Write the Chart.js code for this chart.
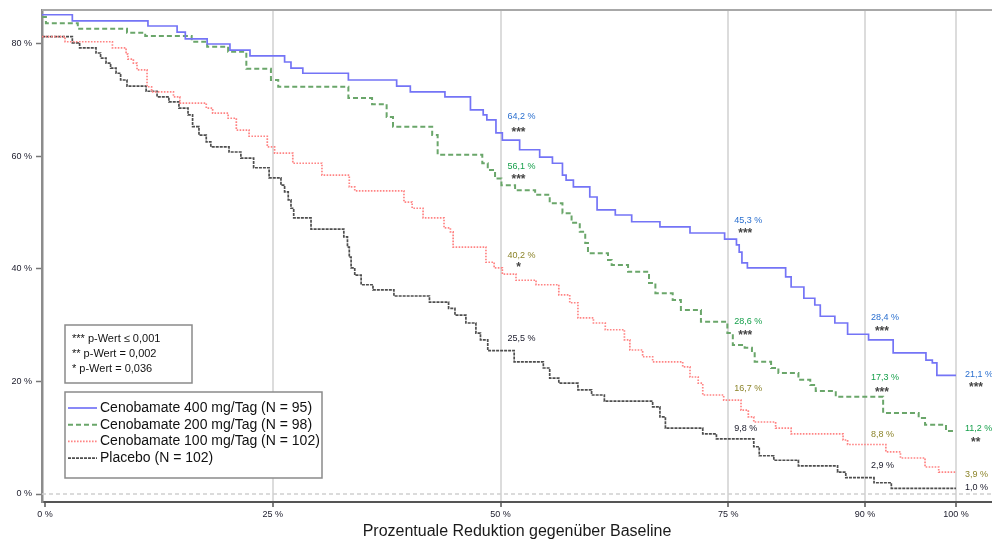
<!DOCTYPE html>
<html><head><meta charset="utf-8">
<script src="https://cdn.jsdelivr.net/npm/chart.js@4.4.1/dist/chart.umd.min.js"></script>
<style>html,body{margin:0;padding:0;background:#fff;}</style>
</head><body>
<canvas id="c" width="992" height="545"></canvas>
<script>
// ---------- DATA ----------
const xTicks = [0, 25, 50, 75, 90, 100];
const yTicks = [0, 20, 40, 60, 80];
const seriesLabels = ['Cenobamate 400 mg/Tag (N = 95)', 'Cenobamate 200 mg/Tag (N = 98)', 'Cenobamate 100 mg/Tag (N = 102)', 'Placebo (N = 102)'];
const xTitle = 'Prozentuale Reduktion gegenüber Baseline';
const pText = ['*** p-Wert \u2264 0,001', '** p-Wert = 0,002', '* p-Wert = 0,036'];

// step points: x = reduction (%) where the curve drops, y = responder rate (%) after the drop
const x400 = [-0.33, 3.0, 11.3, 14.5, 15.4, 17.8, 20.3, 22.5, 26.3, 27.0, 28.3, 33.3, 38.6, 40.1, 43.9, 46.7, 48.1, 48.5, 49.5, 50.2, 52.1, 54.3, 55.7, 56.8, 57.2, 58.0, 59.8, 60.6, 62.6, 64.4, 67.5, 70.8, 74.6, 75.9, 76.2, 76.5, 77.1, 81.3, 81.9, 83.3, 84.5, 85.1, 86.7, 88.1, 90.4, 93.1, 96.7, 97.4, 97.9, 100];
const y400 = [85.2, 84.1, 83.2, 82.1, 80.9, 80.0, 78.9, 77.9, 76.8, 75.7, 74.8, 73.6, 72.5, 71.5, 70.6, 68.3, 67.4, 66.5, 64.2, 62.9, 61.2, 59.9, 58.8, 56.7, 55.8, 54.6, 52.8, 50.5, 49.6, 48.4, 47.5, 46.4, 45.3, 44.3, 43.0, 41.1, 40.2, 38.6, 36.8, 34.8, 33.6, 31.6, 30.4, 28.4, 27.4, 25.1, 23.8, 23.3, 21.1, 21.1];

const x200 = [-0.33, 0.1, 3.6, 9.0, 11.0, 16.1, 17.8, 20.1, 22.1, 24.8, 25.6, 33.3, 35.9, 37.5, 38.2, 42.5, 43.1, 48.0, 48.6, 49.4, 50.1, 51.6, 53.8, 55.4, 56.8, 57.8, 58.7, 59.3, 59.6, 61.8, 62.2, 64.0, 66.3, 67.0, 68.9, 69.8, 72.0, 74.9, 75.5, 76.8, 77.6, 77.9, 79.7, 80.5, 82.7, 84.0, 84.6, 86.8, 92.0, 95.9, 96.6, 98.9, 100];
const y200 = [84.8, 83.7, 82.7, 82.0, 81.4, 80.4, 79.5, 78.6, 75.6, 73.6, 72.4, 70.4, 69.3, 67.0, 65.3, 63.8, 60.3, 58.8, 57.6, 56.1, 54.9, 54.0, 53.2, 51.7, 49.9, 48.2, 46.6, 44.6, 42.8, 41.6, 40.7, 39.5, 37.5, 35.7, 34.5, 32.7, 30.6, 28.6, 26.5, 26.0, 25.2, 23.5, 22.4, 21.5, 20.3, 19.4, 18.3, 17.3, 14.4, 13.5, 12.3, 11.2, 11.2];

const x100 = [-0.33, 2.2, 7.4, 8.9, 9.1, 9.7, 10.1, 11.2, 11.7, 14.1, 14.8, 17.7, 18.4, 20.1, 21.0, 22.4, 24.4, 25.2, 27.2, 30.4, 33.4, 34.0, 39.4, 40.3, 41.5, 43.8, 44.5, 44.8, 48.4, 49.3, 50.2, 51.7, 53.9, 56.4, 57.6, 58.5, 60.2, 61.5, 63.6, 64.2, 65.6, 66.7, 70.0, 70.8, 71.7, 72.2, 74.5, 76.4, 77.2, 77.8, 80.2, 81.9, 87.6, 88.1, 92.3, 93.9, 96.6, 98.1, 100];
const y100 = [81.3, 80.4, 79.3, 78.2, 77.3, 76.6, 75.4, 72.4, 71.5, 70.6, 69.5, 68.6, 67.7, 66.8, 64.7, 63.6, 61.7, 60.6, 58.8, 56.7, 54.6, 53.9, 51.9, 50.8, 49.1, 47.3, 46.6, 43.9, 41.2, 40.2, 39.1, 38.0, 37.2, 35.4, 34.0, 31.3, 30.4, 29.2, 27.4, 25.6, 24.4, 23.5, 22.6, 20.8, 19.7, 17.6, 16.7, 14.9, 13.7, 12.8, 11.7, 10.7, 9.6, 8.8, 7.5, 6.4, 4.8, 3.9, 3.9];

const xPl = [-0.33, 3.0, 3.8, 5.6, 6.1, 6.7, 7.2, 7.8, 8.3, 9.0, 11.1, 12.3, 13.6, 14.7, 15.7, 16.2, 16.9, 17.7, 18.2, 20.2, 21.5, 22.9, 24.6, 25.9, 26.3, 26.7, 27.0, 27.3, 29.2, 32.8, 33.2, 33.4, 33.6, 34.0, 34.7, 36.0, 38.3, 42.2, 44.3, 45.0, 46.2, 47.3, 47.8, 48.6, 51.5, 54.7, 55.4, 56.4, 58.5, 60.0, 61.4, 66.7, 67.5, 68.1, 72.2, 73.7, 77.8, 78.4, 80.0, 82.7, 87.0, 87.9, 91.0, 92.9, 100];
const yPl = [81.3, 80.2, 79.3, 78.4, 77.5, 76.6, 75.7, 74.8, 73.6, 72.5, 71.6, 70.6, 69.7, 68.6, 67.4, 65.3, 63.8, 62.6, 61.7, 60.8, 59.7, 58.0, 56.2, 54.9, 53.7, 52.3, 50.8, 49.1, 47.1, 45.7, 43.9, 42.1, 40.2, 38.9, 37.2, 36.3, 35.2, 34.1, 33.0, 31.8, 30.4, 28.6, 27.4, 25.5, 23.5, 22.4, 20.6, 19.7, 18.5, 17.6, 16.5, 15.5, 13.7, 11.7, 10.7, 9.8, 8.4, 6.8, 6.0, 5.0, 3.9, 2.9, 2.0, 1.0, 1.0];

// annotated responder rates at the checkpoints
const checkpoints = [50, 75, 90, 100];
const vals400 = [64.2, 45.3, 28.4, 21.1];
const vals200 = [56.1, 28.6, 17.3, 11.2];
const vals100 = [40.2, 16.7, 8.8, 3.9];
const valsPl = [25.5, 9.8, 2.9, 1.0];
const stars400 = ['***', '***', '***', '***'];
const stars200 = ['***', '***', '***', '**'];
const stars100 = ['*', '', '', ''];
const starsPl = ['', '', '', ''];

// ---------- CHART ----------
const FONT = '"Liberation Sans", Arial, sans-serif';
Chart.defaults.font.family = FONT;
const pts = (xs, ys) => xs.map((x, i) => ({ x: x, y: ys[i] }));

const styles = [
  { color: '#7474f6', width: 1.7, dash: [] },
  { color: '#6aa66a', width: 2, dash: [5, 3] },
  { color: '#ff8484', width: 1.7, dash: [1.6, 1.4] },
  { color: '#4e4e4e', width: 1.7, dash: [3, 1] }
];
const seriesData = [pts(x400, y400), pts(x200, y200), pts(x100, y100), pts(xPl, yPl)];

const annot = [
  { vals: vals400, stars: stars400, color: '#2a6fcf', dy: [-16, -19, -17, -1], sdy: [-3, -8, -6, 9] },
  { vals: vals200, stars: stars200, color: '#17a04c', dy: [-12, -12, -19, -2], sdy: [-2, 0, -7, 9] },
  { vals: vals100, stars: stars100, color: '#8c842a', dy: [-12, -12, -10, 2], sdy: [-3, 0, 0, 0] },
  { vals: valsPl, stars: starsPl, color: '#1a1a2a', dy: [-12, -10, -12, -1], sdy: [0, 0, 0, 0] }
];
const labelDx = [7, 6, 6, 9];

const deco = {
  id: 'deco',
  beforeDatasetsDraw(chart) {
    const { ctx, chartArea: a, scales } = chart;
    const y0 = scales.y.getPixelForValue(0);
    ctx.save();
    ctx.strokeStyle = '#cfcfcf'; ctx.lineWidth = 1.5; ctx.setLineDash([4, 3]);
    ctx.beginPath(); ctx.moveTo(a.left, y0); ctx.lineTo(a.right, y0); ctx.stroke();
    ctx.setLineDash([]);
    ctx.strokeStyle = '#a8a8a8'; ctx.lineWidth = 2;
    ctx.beginPath(); ctx.moveTo(a.left, a.top); ctx.lineTo(a.right, a.top); ctx.stroke();
    ctx.restore();
  },
  afterDraw(chart) {
    const { ctx, chartArea: a, scales } = chart;
    ctx.save();
    // checkpoint labels
    annot.forEach(s => {
      s.vals.forEach((v, i) => {
        const px = scales.x.getPixelForValue(checkpoints[i]) + labelDx[i];
        const py = scales.y.getPixelForValue(v);
        const txt = v.toFixed(1).replace('.', ',') + ' %';
        ctx.font = '9px ' + FONT; ctx.textAlign = 'left'; ctx.textBaseline = 'middle';
        ctx.fillStyle = s.color;
        ctx.fillText(txt, px, py + s.dy[i]);
        const w = ctx.measureText(txt).width;
        if (s.stars[i]) {
          ctx.font = 'bold 12px ' + FONT; ctx.textAlign = 'center';
          ctx.fillStyle = '#444';
          ctx.fillText(s.stars[i], px + w / 2 - 3, py + s.sdy[i] + 3);
        }
      });
    });
    // p-value box
    ctx.fillStyle = '#fff'; ctx.strokeStyle = '#8a8a8a'; ctx.lineWidth = 1.5;
    ctx.fillRect(65, 325, 127, 58); ctx.strokeRect(65, 325, 127, 58);
    ctx.fillStyle = '#111'; ctx.font = '11px ' + FONT; ctx.textAlign = 'left'; ctx.textBaseline = 'middle';
    pText.forEach((t, i) => ctx.fillText(t, 72, 339 + i * 15));
    // legend box
    ctx.fillStyle = '#fff'; ctx.strokeStyle = '#8a8a8a';
    ctx.fillRect(65, 392, 257, 86); ctx.strokeRect(65, 392, 257, 86);
    chart.data.datasets.forEach((ds, i) => {
      const y = 408 + i * 16.7;
      ctx.strokeStyle = ds.borderColor; ctx.lineWidth = ds.borderWidth;
      ctx.setLineDash(ds.borderDash || []);
      ctx.beginPath(); ctx.moveTo(68, y); ctx.lineTo(97, y); ctx.stroke();
      ctx.setLineDash([]);
      ctx.fillStyle = '#111'; ctx.font = '14px ' + FONT;
      ctx.fillText(ds.label, 100, y);
    });
    // x title
    ctx.font = '16px ' + FONT; ctx.textAlign = 'center'; ctx.fillStyle = '#1a1a1a';
    ctx.fillText(xTitle, (a.left + a.right) / 2, 532);
    ctx.restore();
  }
};

new Chart(document.getElementById('c'), {
  type: 'line',
  data: {
    datasets: seriesData.map((d, i) => ({
      label: seriesLabels[i], data: d,
      borderColor: styles[i].color, borderWidth: styles[i].width, borderDash: styles[i].dash,
      stepped: true, pointRadius: 0, fill: false, tension: 0
    }))
  },
  options: {
    responsive: false, animation: false, devicePixelRatio: 1,
    layout: { padding: { top: 10, right: 0, left: 0, bottom: 0 } },
    plugins: { legend: { display: false }, tooltip: { enabled: false } },
    scales: {
      x: {
        type: 'linear', min: -0.33, max: 103.95,
        afterBuildTicks: s => { s.ticks = xTicks.map(v => ({ value: v })); },
        afterFit: s => { s.height = 43; },
        ticks: { callback: v => v + ' %', font: { size: 9 }, color: '#1a1a2a', padding: 2, maxRotation: 0, autoSkip: false },
        grid: { color: c => (c.tick && c.tick.value === 0) ? 'rgba(0,0,0,0)' : '#dcdcdc', lineWidth: 2, tickColor: '#555', tickLength: 5, tickWidth: 1.5 },
        border: { color: '#555', width: 2 }
      },
      y: {
        type: 'linear', min: -1.42, max: 86.04,
        afterBuildTicks: s => { s.ticks = yTicks.map(v => ({ value: v })); },
        afterFit: s => { s.width = 42; },
        ticks: { callback: v => v + ' %', font: { size: 9 }, color: '#1a1a2a', padding: 4 },
        grid: { drawOnChartArea: false, tickColor: '#777', tickLength: 6, tickWidth: 1.5 },
        border: { color: '#8c8c8c', width: 2.5 }
      }
    }
  },
  plugins: [deco]
});
</script>
</body></html>
